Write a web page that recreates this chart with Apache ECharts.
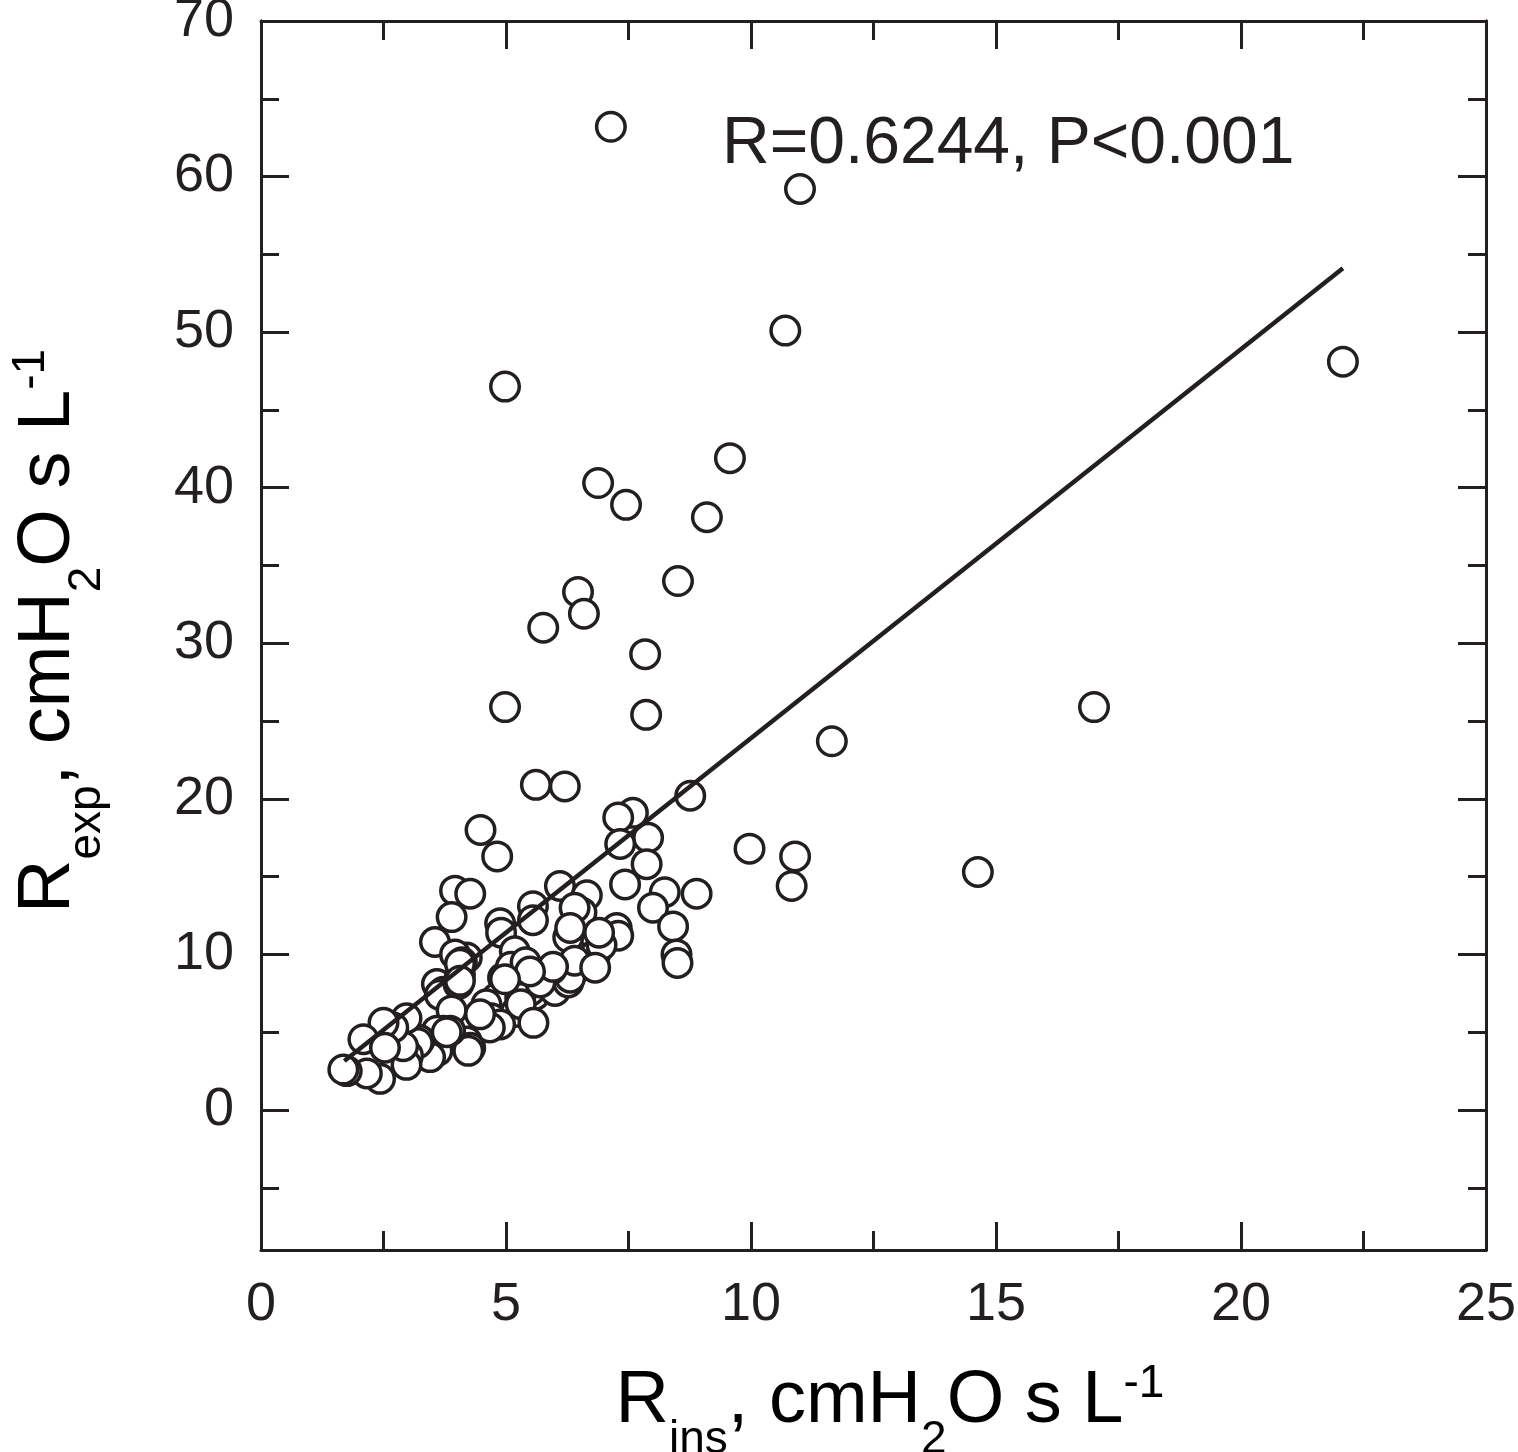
<!DOCTYPE html>
<html style="height: 100%">
<head>
<meta charset="utf-8">
</head>
<body style="height: 100%; margin: 0; background: #fff">
<div id="container" style="width: 1518px; height: 1452px"></div>
<script type="text/javascript" src="https://cdn.jsdelivr.net/npm/echarts@6.0.0/dist/echarts.min.js"></script>
<script type="text/javascript">
// R_ins (x) and R_exp (y), cmH2O s L-1
var rIns = [
  7.14, 11.0, 10.7, 4.98, 22.08, 9.57, 6.88, 7.45, 9.1, 8.51,
  6.47, 6.59, 5.76, 7.84, 7.86, 4.98, 17.0, 11.65, 5.61, 6.2,
  8.76, 7.59, 7.29, 4.48, 7.9, 7.33, 4.82, 9.97, 10.9, 14.63,
  7.87, 10.83, 7.43, 3.96, 4.27, 3.89, 3.55, 6.1, 6.65, 8.24,
  8.89, 8.0, 8.41, 8.48, 8.5, 5.55, 6.54, 4.88, 7.26, 6.82,
  7.29, 4.9, 5.18, 4.2, 3.96, 4.1, 6.82, 6.27, 6.95, 3.59,
  3.72, 3.65, 4.06, 4.03, 4.94, 5.46, 5.59, 5.08, 4.81, 5.49,
  6.0, 6.27, 6.31, 5.93, 5.29, 4.6, 4.7, 5.2, 5.3, 5.1,
  5.4, 5.7, 6.4, 5.56, 4.88, 4.67, 3.89, 3.72, 4.2, 4.27,
  4.23, 3.86, 3.59, 3.6, 3.45, 3.24, 3.2, 3.0, 2.97, 2.9,
  2.97, 2.7, 2.5, 2.09, 2.43, 2.16, 1.75, 4.47, 6.4, 6.31,
  6.9, 5.55, 5.96, 6.82, 5.49, 4.98, 3.79, 2.53, 1.68, 4.06,
  4.06
];
var rExp = [
  63.2, 59.2, 50.1, 46.5, 48.1, 41.9, 40.3, 38.9, 38.1, 34.0,
  33.3, 31.9, 31.0, 29.3, 25.4, 25.9, 25.9, 23.7, 20.9, 20.8,
  20.2, 19.1, 18.8, 18.0, 17.5, 17.1, 16.3, 16.8, 16.3, 15.3,
  15.8, 14.4, 14.5, 14.1, 13.9, 12.4, 10.8, 14.4, 13.8, 14.0,
  13.9, 13.0, 11.8, 10.0, 9.45, 13.1, 12.7, 12.0, 11.7, 11.1,
  11.2, 11.4, 10.2, 9.8, 10.0, 9.5, 10.0, 11.1, 10.6, 8.1,
  7.6, 7.4, 8.7, 8.1, 8.5, 8.8, 7.4, 6.4, 7.2, 7.65,
  7.65, 8.2, 8.5, 9.05, 7.2, 6.8, 5.9, 6.3, 6.8, 9.2,
  9.5, 8.2, 9.6, 5.6, 5.5, 5.3, 6.4, 5.1, 4.4, 4.0,
  3.8, 5.1, 5.1, 3.8, 3.4, 4.5, 4.3, 3.5, 2.9, 4.1,
  5.9, 5.3, 5.6, 4.55, 2.0, 2.35, 2.5, 6.15, 13.0, 11.7,
  11.4, 12.2, 9.2, 9.15, 8.9, 8.4, 5.0, 4.0, 2.6, 9.4,
  8.3
];

// regression line end points
var fitX = [1.7, 22.08];
var fitY = [3.15, 54.1];

var yLabelValues = [0, 10, 20, 30, 40, 50, 60, 70];
var yMinorValues = [-5, 5, 15, 25, 35, 45, 55, 65];

var ink = '#231f20';
var font = '"Liberation Sans", Arial, sans-serif';

var points = rIns.map(function (x, i) { return [x, rExp[i]]; });
var fitLine = fitX.map(function (x, i) { return [x, fitY[i]]; });

var dom = document.getElementById('container');
var myChart = echarts.init(dom);

function xAxisCfg(pos, labels) {
  return {
    type: 'value', position: pos, min: 0, max: 25, interval: 5,
    axisLine: { show: true, onZero: false, lineStyle: { color: ink, width: 3 } },
    axisTick: { show: true, inside: true, length: 28, lineStyle: { color: ink, width: 3 } },
    minorTick: { show: true, splitNumber: 2, length: 19, lineStyle: { color: ink, width: 3 } },
    axisLabel: { show: labels, margin: 28, fontSize: 54, color: ink, fontFamily: font },
    splitLine: { show: false }
  };
}

function yAxisCfg(pos, ticks, len, labels) {
  return {
    type: 'value', position: pos, min: -9, max: 70,
    axisLine: { show: true, onZero: false, lineStyle: { color: ink, width: 3 } },
    axisTick: { show: true, inside: true, length: len, customValues: ticks, lineStyle: { color: ink, width: 3 } },
    axisLabel: { show: labels, customValues: yLabelValues, margin: 27, fontSize: 54, color: ink, fontFamily: font },
    splitLine: { show: false }
  };
}

var titleRich = {
  m: { fontSize: 74, fontFamily: font, color: ink, lineHeight: 80 },
  sub: { fontSize: 46, fontFamily: font, color: ink, lineHeight: 46, padding: [76, 0, 0, 0] },
  sup: { fontSize: 46, fontFamily: font, color: ink, lineHeight: 46, padding: [0, 0, 36, 0] }
};

option = {
  backgroundColor: '#fff',
  animation: false,
  grid: { left: 261, right: 32, top: 21, bottom: 202, outerBoundsMode: 'none', containLabel: false },
  xAxis: [xAxisCfg('bottom', true), xAxisCfg('top', false)],
  yAxis: [
    yAxisCfg('left', yLabelValues, 28, true),
    yAxisCfg('left', yMinorValues, 18, false),
    yAxisCfg('right', yLabelValues, 28, false),
    yAxisCfg('right', yMinorValues, 18, false)
  ],
  graphic: [
    {
      type: 'text', x: 890, y: 1402, z: 10,
      style: {
        text: '{m|R}{sub|ins}{m|, cmH}{sub|2}{m|O s L}{sup|-1}',
        rich: titleRich, align: 'center', verticalAlign: 'middle'
      }
    },
    {
      type: 'text', x: 49, y: 631, rotation: Math.PI / 2, z: 10,
      style: {
        text: '{m|R}{sub|exp}{m|, cmH}{sub|2}{m|O s L}{sup|-1}',
        rich: titleRich, align: 'center', verticalAlign: 'middle'
      }
    },
    {
      type: 'text', x: 722, y: 145, z: 10,
      style: {
        text: 'R=0.6244, P<0.001', fontSize: 66, fontFamily: font, fill: ink,
        align: 'left', verticalAlign: 'middle'
      }
    }
  ],
  series: [
    {
      type: 'scatter', xAxisIndex: 0, yAxisIndex: 0,
      data: points,
      symbol: 'circle', symbolSize: 28.5,
      itemStyle: { color: '#fff', borderColor: ink, borderWidth: 3.5, opacity: 1 }
    },
    {
      type: 'line', xAxisIndex: 0, yAxisIndex: 0,
      data: fitLine, showSymbol: false, symbol: 'none',
      lineStyle: { color: ink, width: 4.5 }
    }
  ]
};

myChart.setOption(option, true);
</script>
</body>
</html>
